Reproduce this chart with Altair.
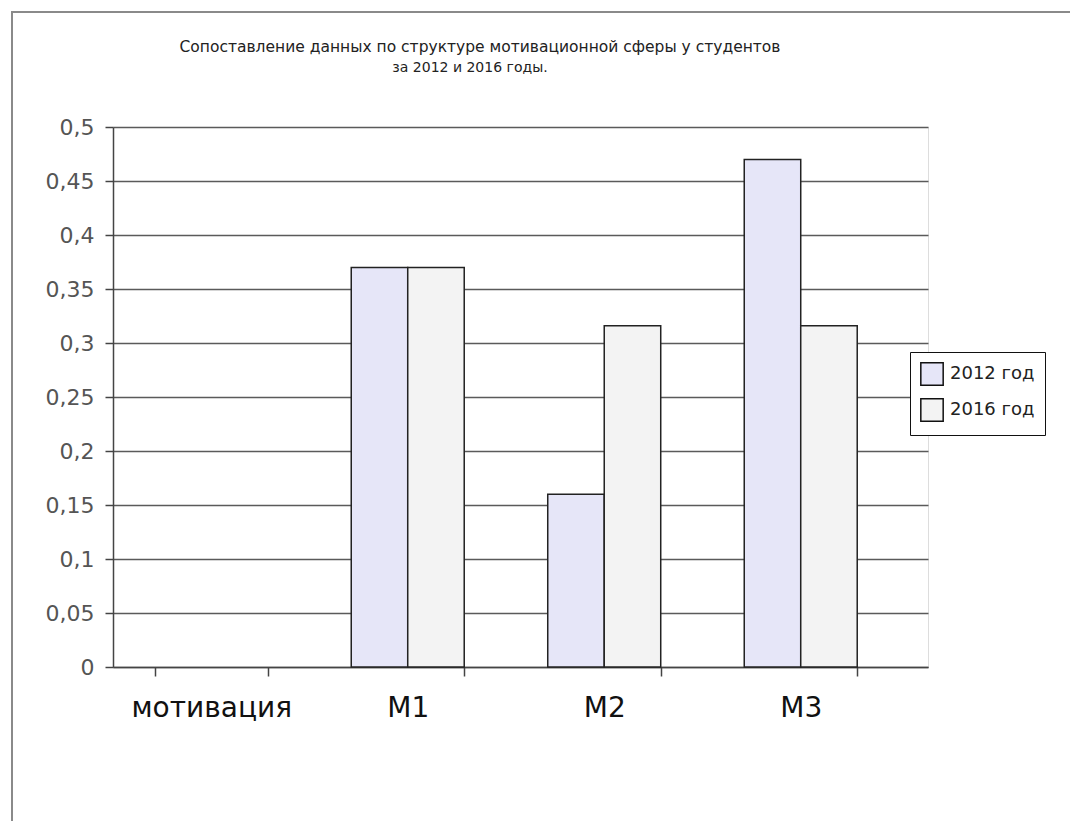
import altair as alt
import pandas as pd

categories = ["мотивация", "M1", "M2", "M3"]
bar_categories = ["M1", "M1", "M2", "M2", "M3", "M3"]
years = ["2012 год", "2016 год", "2012 год", "2016 год", "2012 год", "2016 год"]
values = [0.37, 0.37, 0.16, 0.316, 0.47, 0.316]
series = ["2012 год", "2016 год"]
y_ticks = [0, 0.05, 0.1, 0.15, 0.2, 0.25, 0.3, 0.35, 0.4, 0.45, 0.5]
title_lines = ["Сопоставление данных по структуре мотивационной сферы у студентов",
               "за 2012 и 2016 годы."]

df = pd.DataFrame({"cat": bar_categories, "year": years, "value": values})

FONT = "DejaVu Sans"

bars = alt.Chart(df).mark_bar(stroke="#222222", strokeWidth=1.5).encode(
    x=alt.X(
        "cat:N",
        scale=alt.Scale(domain=categories, paddingInner=0.425, paddingOuter=0.2863, align=0.371),
        axis=alt.Axis(
            title=None, labelAngle=0, tickBand="extent", tickSize=9, tickColor="#444444",
            tickWidth=1.5, domainColor="#444444", domainWidth=1.5, labelFontSize=28,
            labelFont=FONT, labelColor="#111111", labelPadding=18, grid=False,
        ),
    ),
    xOffset=alt.XOffset("year:N", scale=alt.Scale(domain=series, paddingInner=0, paddingOuter=0)),
    y=alt.Y(
        "value:Q",
        scale=alt.Scale(domain=[0, 0.5], nice=False),
        axis=alt.Axis(
            title=None, values=y_ticks, labelExpr="replace(format(datum.value, '.2~f'), '.', ',')",
            tickSize=8, tickColor="#444444", tickWidth=1.5, domainColor="#444444",
            domainWidth=1.5, gridColor="#5a5a5a", gridWidth=1.5, labelFontSize=22,
            labelFont=FONT, labelColor="#555555", labelPadding=11,
        ),
    ),
    color=alt.Color(
        "year:N",
        scale=alt.Scale(domain=series, range=["#e6e6f8", "#f3f3f3"]),
        legend=alt.Legend(
            title=None, orient="none", legendX=797, legendY=225, strokeColor="#111111",
            fillColor="white", padding=10, symbolType="square", symbolSize=500,
            symbolStrokeColor="#111111", symbolStrokeWidth=1.5, labelFontSize=18,
            labelFont=FONT, labelColor="#222222", rowPadding=6, labelOffset=6,
        ),
    ),
)

frame = alt.Chart(pd.DataFrame({"a": [0]})).mark_rect(
    fill=None, stroke="#8a8a8a", strokeWidth=2
).encode(
    x=alt.value(-101), x2=alt.value(1000), y=alt.value(-115), y2=alt.value(800)
)

title1 = alt.Chart(pd.DataFrame({"t": [title_lines[0]]})).mark_text(
    font=FONT, fontSize=15.5, color="#222222", align="center", baseline="middle"
).encode(text="t:N", x=alt.value(367), y=alt.value(-80))

title2 = alt.Chart(pd.DataFrame({"t": [title_lines[1]]})).mark_text(
    font=FONT, fontSize=14, color="#222222", align="center", baseline="middle"
).encode(text="t:N", x=alt.value(357), y=alt.value(-59))

chart = alt.layer(frame, title1, title2, bars).properties(
    width=815,
    height=540,
    padding={"left": 105, "top": 119, "right": 142, "bottom": 154},
    autosize=alt.AutoSizeParams(type="none"),
).configure_view(stroke="transparent", strokeWidth=0, fill="transparent").configure(font=FONT)

chart.save("out.html", embed_options={"renderer": "svg", "actions": False})
